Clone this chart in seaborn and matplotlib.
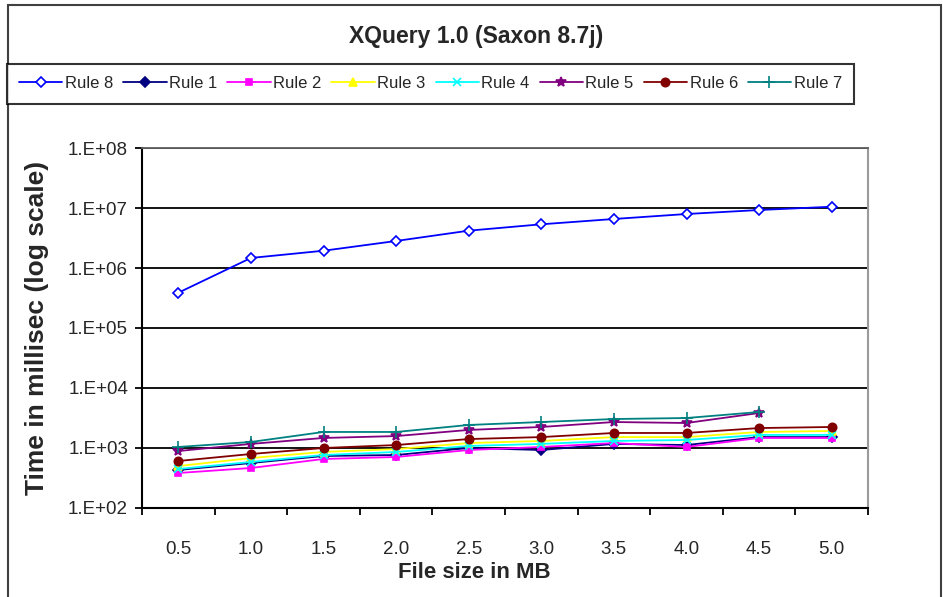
import matplotlib
matplotlib.use("Agg")
import matplotlib.pyplot as plt
from matplotlib.patches import Rectangle
from matplotlib.ticker import FixedLocator, FuncFormatter, NullLocator
import numpy as np
import pandas as pd
import seaborn as sns

# File sizes (MB) on the category axis
file_sizes = ["0.5", "1.0", "1.5", "2.0", "2.5", "3.0", "3.5", "4.0", "4.5", "5.0"]

# Execution times in milliseconds per rule
rule8 = [3.87e5, 1.47e6, 1.94e6, 2.82e6, 4.19e6, 5.35e6, 6.56e6, 7.94e6, 9.26e6, 1.05e7]
rule1 = [430, 562, 736, 764, 1000, 926, 1170, 1120, 1520, 1520]
rule2 = [383, 464, 656, 708, 926, 1040, 1210, 1040, 1470, 1470]
rule3 = [500, 680, 860, 960, 1210, 1310, 1520, 1520, 1850, 1920]
rule4 = [447, 585, 764, 858, 1080, 1170, 1310, 1360, 1650, 1650]
rule5 = [890, 1170, 1470, 1580, 2000, 2240, 2710, 2610, 3830]
rule6 = [607, 794, 1000, 1120, 1410, 1520, 1780, 1780, 2150, 2240]
rule7 = [1040, 1260, 1850, 1850, 2420, 2710, 3040, 3160, 3980]

series_names = ["Rule 8", "Rule 1", "Rule 2", "Rule 3", "Rule 4", "Rule 5", "Rule 6", "Rule 7"]
series_values = [rule8, rule1, rule2, rule3, rule4, rule5, rule6, rule7]
colors = ["#0000FF", "#000080", "#FF00FF", "#FFFF00", "#00FFFF", "#800080", "#800000", "#008080"]
markers = ["D", "D", "s", "^", "x", "*", "o", "+"]
marker_sizes = [5, 5, 5, 6, 6, 7, 6, 8]
hollow = [True, False, False, False, False, False, False, False]

sns.set_style("white")
plt.rcParams["font.family"] = ["Liberation Sans", "DejaVu Sans"]

fig = plt.figure(figsize=(9.43, 5.97), dpi=100)
ax = fig.add_axes([142 / 943, 89 / 597, 726 / 943, 360 / 597])

for name, vals, col, mk, ms, hol in zip(series_names, series_values, colors,
                                         markers, marker_sizes, hollow):
    df = pd.DataFrame({"pos": np.arange(len(vals)), "ms": vals})
    sns.lineplot(data=df, x="pos", y="ms", ax=ax, color=col, lw=1.3,
                 marker=mk, markersize=ms,
                 markerfacecolor="white" if hol else col,
                 markeredgecolor=col, markeredgewidth=1.2,
                 label=name, legend=False)

ax.set_yscale("log")
ax.set_ylim(1e2, 1e8)
ax.yaxis.set_major_locator(FixedLocator([10.0 ** k for k in range(2, 9)]))
ax.yaxis.set_minor_locator(NullLocator())
ax.yaxis.set_major_formatter(FuncFormatter(lambda v, p: "1.E+%02d" % int(round(np.log10(v)))))
ax.grid(axis="y", which="major", color="black", lw=1.3)
ax.set_axisbelow(True)

ax.set_xlim(-0.5, len(file_sizes) - 0.5)
ax.set_xticks(np.arange(len(file_sizes)))
ax.set_xticklabels(file_sizes)
ax.xaxis.set_minor_locator(FixedLocator(np.arange(-0.5, len(file_sizes), 1.0)))
ax.tick_params(axis="x", which="major", length=0, pad=24, labelsize=13.5)
ax.tick_params(axis="x", which="minor", length=5, width=1.3, color="black", direction="out", bottom=True)
ax.tick_params(axis="y", which="major", length=5, width=1.3, color="black", direction="out",
               left=True, pad=5, labelsize=13.5)

for side in ["left", "bottom"]:
    ax.spines[side].set_color("black")
    ax.spines[side].set_linewidth(1.5)
ax.spines["right"].set_color("#9a9a9a")
ax.spines["right"].set_linewidth(1.5)
ax.spines["top"].set_color("#606060")
ax.spines["top"].set_linewidth(1.3)

ax.set_xlabel("")
ax.set_ylabel("")
fig.text(474 / 943, 1 - 572 / 597, "File size in MB", ha="center", va="center",
         fontsize=16, fontweight="bold")
fig.text(37 / 943, 1 - 328 / 597, "Time in millisec (log scale)", ha="center", va="center",
         rotation=90, fontsize=19, fontweight="bold")
fig.text(476 / 943, 1 - 36 / 597, "XQuery 1.0 (Saxon 8.7j)", ha="center", va="center",
         fontsize=16.5, fontweight="bold")

handles, labels = ax.get_legend_handles_labels()
leg = fig.legend(handles, labels, ncol=8, loc="center",
                 bbox_to_anchor=(430.5 / 943, 1 - 83.5 / 597),
                 frameon=True, fancybox=False, edgecolor="black", fontsize=12,
                 handlelength=2.6, handletextpad=0.15, columnspacing=0.6,
                 borderpad=0.75, borderaxespad=0)
leg.get_frame().set_linewidth(1.5)

# Outer chart border
fig.add_artist(Rectangle((8 / 943, -0.02), 933 / 943, 1 - 5 / 597 + 0.02,
                         transform=fig.transFigure, fill=False,
                         edgecolor="#404040", lw=1.5))

fig.savefig("out.png", dpi=100)
